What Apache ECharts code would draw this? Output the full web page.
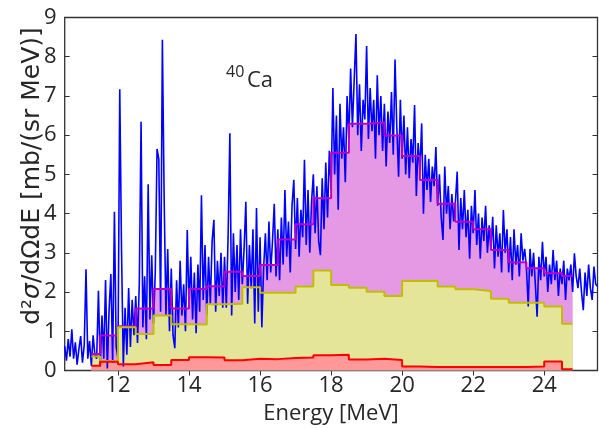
<!DOCTYPE html>
<html>
<head>
<meta charset="utf-8">
<script src="https://cdn.jsdelivr.net/npm/echarts@6/dist/echarts.min.js"></script>
<style>
html, body { margin: 0; padding: 0; background: #fff; }
#chart { width: 599px; height: 428px; }
</style>
</head>
<body>
<div id="chart"></div>
<script>
// measured spectrum, one value every 0.05 MeV from 10.5 MeV
var specStart = 10.5;
var specStep = 0.05;
var spectrum = [
  0.62, 0.25, 0.80, 0.35, 1.05, 0.30, 0.72, 0.15, 0.55, 0.88,
  0.20, 0.65, 2.58, 0.30, 0.75, 0.12, 0.90, 0.40, 0.30, 2.03,
  0.10, 1.40, 0.30, 2.31, 0.05, 1.55, 2.46, 0.20, 4.05, 0.60,
  0.30, 7.17, 3.07, 0.10, 1.60, 0.40, 2.10, 0.60, 1.80, 0.90,
  1.90, 0.70, 2.20, 6.34, 1.10, 2.40, 0.80, 4.75, 1.30, 2.94,
  1.20, 2.50, 5.65, 5.38, 1.50, 8.43, 4.39, 1.40, 3.10, 1.00,
  2.60, 0.90, 0.57, 2.30, 1.10, 2.80, 1.40, 2.20, 1.00, 3.58,
  1.60, 2.90, 1.30, 2.50, 0.95, 2.70, 1.50, 4.47, 1.80, 3.20,
  1.40, 2.90, 1.70, 3.30, 3.84, 1.50, 2.80, 1.90, 3.00, 1.60,
  2.90, 1.60, 3.40, 6.05, 1.40, 3.50, 2.00, 3.20, 1.80, 3.60,
  2.20, 3.10, 4.30, 1.70, 3.20, 2.10, 3.60, 1.20, 4.14, 1.50,
  3.40, 1.10, 2.60, 3.50, 2.30, 3.80, 2.50, 3.30, 4.25, 2.40,
  3.60, 2.30, 3.90, 2.70, 4.60, 2.90, 3.80, 2.50, 4.20, 4.86,
  3.10, 4.40, 2.90, 4.10, 3.40, 5.37, 3.20, 4.60, 3.00, 4.30,
  5.00, 3.50, 4.70, 3.30, 2.94, 4.90, 3.60, 5.30, 3.90, 5.60,
  4.60, 7.20, 5.00, 6.50, 4.10, 6.80, 5.40, 6.20, 4.80, 7.00,
  5.90, 7.70, 6.20, 7.40, 8.58, 6.00, 7.30, 5.60, 6.90, 6.40,
  8.27, 5.90, 7.20, 6.10, 6.90, 5.40, 7.53, 6.00, 7.00, 5.60,
  6.80, 5.20, 6.60, 5.80, 7.10, 5.50, 7.93, 6.20, 4.94, 6.90,
  5.40, 6.50, 5.00, 6.20, 4.90, 5.90, 5.30, 6.77, 4.45, 5.80,
  5.10, 6.30, 4.00, 5.50, 4.60, 5.40, 4.30, 5.20, 4.70, 5.70,
  4.20, 5.00, 3.90, 3.33, 5.20, 4.00, 4.70, 3.60, 4.50, 3.80,
  4.30, 5.07, 3.07, 4.40, 3.60, 4.60, 3.40, 4.10, 2.85, 4.20,
  3.50, 4.60, 3.20, 4.00, 2.85, 3.90, 3.30, 4.20, 3.00, 3.70,
  3.10, 3.92, 2.60, 3.70, 2.90, 3.50, 2.50, 4.09, 3.00, 3.60,
  2.50, 3.40, 2.30, 3.60, 2.70, 3.20, 2.40, 3.50, 2.80, 3.10,
  2.60, 1.63, 3.10, 2.40, 3.00, 2.20, 1.37, 2.90, 2.30, 3.28,
  2.40, 2.90, 2.00, 2.70, 2.20, 3.07, 2.30, 2.80, 1.90, 2.60,
  2.20, 2.80, 1.80, 2.60, 2.30, 2.70, 2.00, 2.99, 2.40, 2.10,
  2.60, 2.00, 1.54, 2.50, 1.90, 2.70, 2.10, 1.80, 2.65, 2.20,
  2.15
];

// histogram bins (MeV)
var binEdges = [11.25, 11.5, 12, 12.5, 13, 13.5, 14, 14.5, 15, 15.5, 16, 16.5, 17, 17.5,
  18, 18.5, 19, 19.5, 20, 20.5, 21, 21.5, 22, 22.5, 23, 23.5, 24, 24.5, 24.8];
var totalHist = [0.42, 0.89, 1.13, 1.58, 2.08, 1.58, 2.08, 2.15, 2.52, 2.41, 2.69, 3.34, 3.73, 4.39,
  5.55, 6.29, 6.32, 5.99, 5.47, 4.86, 4.25, 3.79, 3.60, 3.07, 2.76, 2.61, 2.48, 2.41];
var midHist = [0.36, 0.24, 1.10, 0.93, 1.40, 1.18, 1.17, 1.69, 1.70, 2.12, 1.98, 1.98, 2.14, 2.55,
  2.18, 2.11, 2.01, 1.90, 2.28, 2.29, 2.14, 2.07, 2.03, 1.83, 1.73, 1.73, 1.63, 1.19];
var lowHist = [0.12, 0.22, 0.16, 0.21, 0.14, 0.27, 0.34, 0.33, 0.26, 0.30, 0.29, 0.32, 0.33, 0.39,
  0.40, 0.28, 0.30, 0.27, 0.10, 0.09, 0.09, 0.09, 0.09, 0.09, 0.09, 0.10, 0.23, 0.03];

var xTicks = [12, 14, 16, 18, 20, 22, 24];

var labelFont = 'Open Sans';
var textColor = '#262626';
var frameColor = '#333';

function stepPoints(vals) {
  var pts = [];
  for (var i = 0; i < vals.length; i++) {
    pts.push([binEdges[i], vals[i]]);
    pts.push([binEdges[i + 1], vals[i]]);
  }
  return pts;
}

var specPoints = spectrum.map(function (v, i) {
  return [+(specStart + i * specStep).toFixed(2), v];
});

function fillSeries(vals, color) {
  return {
    type: 'line', data: stepPoints(vals), showSymbol: false, silent: true,
    lineStyle: { width: 0 },
    areaStyle: { color: color, opacity: 1, origin: 'start' }
  };
}
function stepLine(vals, color) {
  return {
    type: 'line', data: stepPoints(vals), showSymbol: false, silent: true,
    lineStyle: { color: color, width: 2 }
  };
}

var chart = echarts.init(document.getElementById('chart'));

var tickStyle = { inside: true, length: 5, lineStyle: { color: frameColor, width: 1 } };

var option = {
  animation: false,
  grid: {
    left: 64.7, right: 1.5, top: 17.5, bottom: 57.5,
    show: true, borderColor: frameColor, borderWidth: 1.3
  },
  xAxis: [
    {
      type: 'value', min: 10.5, max: 25.5, position: 'bottom',
      axisLine: { show: false }, splitLine: { show: false },
      axisTick: Object.assign({ customValues: xTicks }, tickStyle),
      axisLabel: { customValues: xTicks, fontSize: 22, fontFamily: labelFont, color: textColor, margin: 4 }
    },
    {
      type: 'value', min: 10.5, max: 25.5, position: 'top',
      axisLine: { show: false }, splitLine: { show: false },
      axisTick: Object.assign({ customValues: xTicks }, tickStyle),
      axisLabel: { show: false }
    }
  ],
  yAxis: [
    {
      type: 'value', min: 0, max: 9, interval: 1, position: 'left',
      axisLine: { show: false }, splitLine: { show: false },
      axisTick: tickStyle,
      axisLabel: { fontSize: 22, fontFamily: labelFont, color: textColor, margin: 8 }
    },
    {
      type: 'value', min: 0, max: 9, interval: 1, position: 'right',
      axisLine: { show: false }, splitLine: { show: false },
      axisTick: tickStyle,
      axisLabel: { show: false }
    }
  ],
  series: [
    fillSeries(totalHist, '#e599e5'),
    fillSeries(midHist, '#e5e599'),
    fillSeries(lowHist, '#ff9999'),
    {
      type: 'line', data: specPoints, showSymbol: false, silent: true,
      lineStyle: { color: '#0000ff', width: 1.6 }
    },
    stepLine(totalHist, '#bf00bf'),
    stepLine(midHist, '#bfbf00'),
    stepLine(lowHist, '#ff0000')
  ],
  graphic: [
    {
      type: 'text', x: 331, y: 414,
      style: { text: 'Energy [MeV]', font: '22px "Open Sans"', fill: textColor, align: 'center', verticalAlign: 'middle' }
    },
    {
      type: 'text', x: 32, y: 176, rotation: Math.PI / 2,
      style: {
        text: '{n|d²}{i|σ}{n|/dΩdE [mb/(sr MeV)]}',
        align: 'center', verticalAlign: 'middle',
        rich: {
          n: { fontSize: 25, fontFamily: 'DejaVu Sans', fill: textColor },
          i: { fontSize: 25, fontFamily: 'DejaVu Sans', fontStyle: 'italic', fill: textColor }
        }
      }
    },
    {
      type: 'text', x: 226, y: 72.5,
      style: { text: '40', font: '16px "Open Sans"', fill: textColor, align: 'left', verticalAlign: 'middle' }
    },
    {
      type: 'text', x: 247, y: 81,
      style: { text: 'Ca', font: '22px "Open Sans"', fill: textColor, align: 'left', verticalAlign: 'middle' }
    }
  ]
};

chart.setOption(option);
</script>
</body>
</html>
